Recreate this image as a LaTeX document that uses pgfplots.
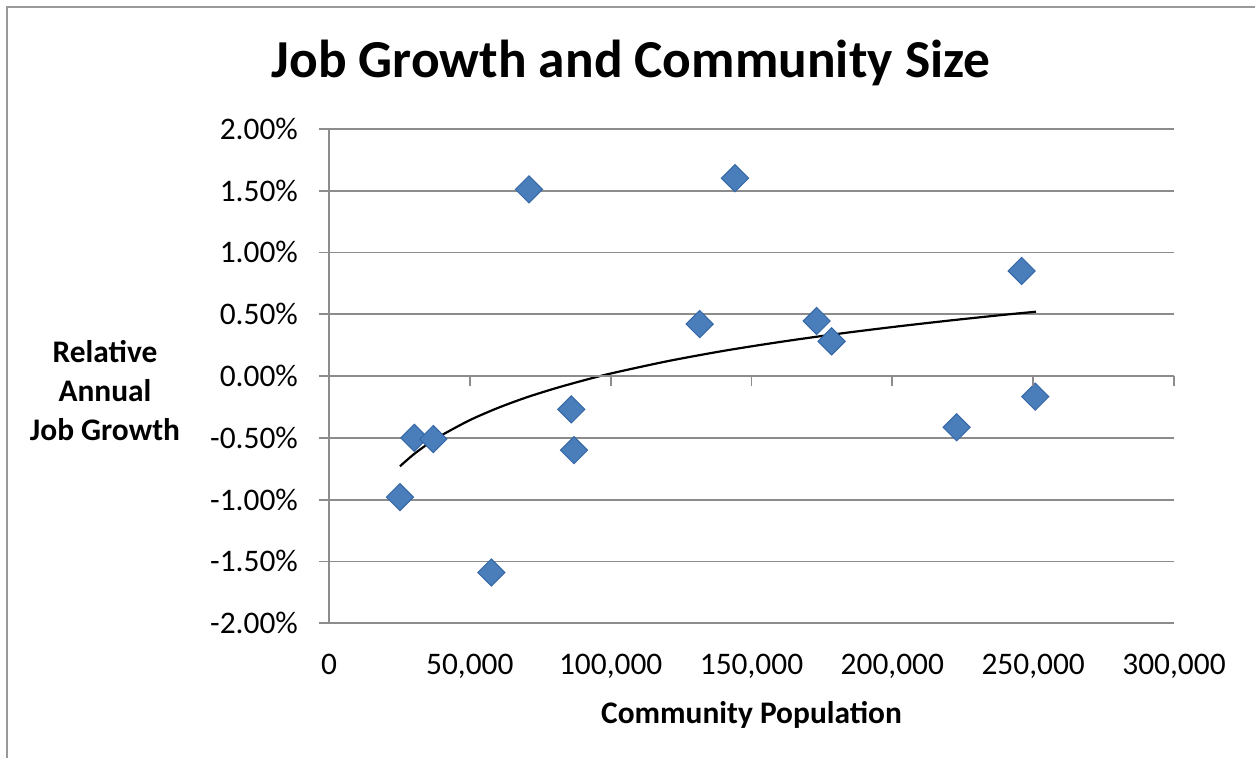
\documentclass[border=0pt]{standalone}
\usepackage{pgfplots}
\pgfplotsset{compat=1.18}
\usepackage{fontspec}
\setmainfont{Carlito}
\definecolor{gridgray}{HTML}{8C8C8C}
\definecolor{mblue}{HTML}{4A7EBB}
\definecolor{mblueedge}{HTML}{3567A6}
\begin{document}
\begin{tikzpicture}
\path[use as bounding box] (0,0) rectangle (627.5pt,378.5pt);
\draw[gray!80,line width=0.9pt] (3.65pt,-20pt) -- (3.65pt,374.85pt) -- (660pt,374.85pt);
\node[font=\fontsize{26.7}{32}\selectfont\bfseries] at (315.5pt,347pt) {Job Growth and Community Size};
\node[font=\fontsize{15.7}{19.5}\selectfont\bfseries,align=center] at (52.5pt,183pt) {Relative\\Annual\\Job Growth};
\begin{axis}[
  at={(164.5pt,66.9pt)}, anchor=south west,
  scale only axis, width=422.5pt, height=247.2pt,
  xmin=0, xmax=300000, ymin=-2, ymax=2,
  xtick={0,50000,...,300000},
  ytick={-2,-1.5,...,2},
  axis x line*=bottom, axis y line*=left,
  x axis line style={draw=none},
  y axis line style={draw=gridgray,line width=0.9pt},
  ymajorgrids, grid style={draw=gridgray,line width=0.9pt},
  major x tick style={draw=none},
  major y tick style={draw=gridgray,line width=0.9pt},
  tick align=outside, major tick length=5pt,
  ticklabel style={font=\fontsize{15.7}{18}\selectfont},
  /pgf/number format/assume math mode=true,
  scaled x ticks=false,
  xticklabel style={yshift=-7pt,/pgf/number format/.cd,fixed,1000 sep={,}},
  yticklabel style={xshift=-7pt},
  yticklabel={\pgfmathprintnumber[fixed,fixed zerofill,precision=2]{\tick}\%},
  xlabel={\bfseries Community Population},
  xlabel style={font=\fontsize{15.7}{18}\selectfont,yshift=-4.5pt},
  clip=false,
]
% trend line (logarithmic fit)
\addplot[black,line width=1.1pt,smooth] coordinates {
(25200,-0.730) (30000,-0.635) (35000,-0.551) (40000,-0.479) (50000,-0.357)
(60000,-0.258) (70000,-0.174) (80000,-0.102) (90000,-0.038) (100000,0.020)
(120000,0.119) (140000,0.203) (160000,0.275) (180000,0.339) (200000,0.396)
(220000,0.448) (240000,0.496) (251000,0.520)};
% data
\addplot[only marks, mark=square*, mark size=4.8pt,
  mark options={rotate=45,fill=mblue,draw=mblueedge,line width=0.5pt}] coordinates {
(25200,-0.98) (30290,-0.50) (37030,-0.51) (57630,-1.59) (71000,1.51)
(86030,-0.27) (86980,-0.60) (131600,0.42) (144130,1.60) (173130,0.445)
(178450,0.28) (222830,-0.415) (245900,0.85) (250740,-0.167)};
\end{axis}
% zero axis with ticks
\begin{axis}[
  at={(164.5pt,66.9pt)}, anchor=south west,
  scale only axis, width=422.5pt, height=247.2pt,
  xmin=0, xmax=300000, ymin=-2, ymax=2,
  axis x line=middle, axis y line=none,
  xtick={0,50000,...,300000}, xticklabels={},
  scaled x ticks=false,
  x axis line style={draw=gridgray,line width=0.9pt,-},
  major x tick style={draw=gridgray,line width=0.9pt},
  tick align=outside, major tick length=5pt,
]
\end{axis}
\end{tikzpicture}
\end{document}
